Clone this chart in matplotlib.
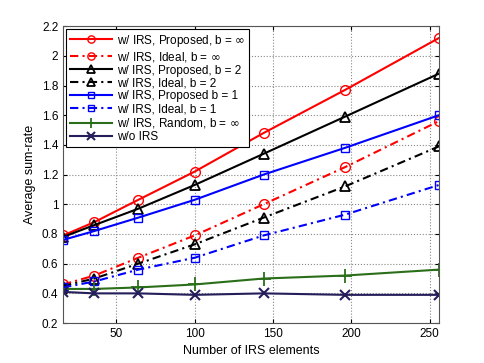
import matplotlib.pyplot as plt

plt.rcParams['font.family'] = ['Liberation Sans', 'DejaVu Sans']
plt.rcParams['mathtext.fontset'] = 'dejavusans'

n_elements = [16, 36, 64, 100, 144, 196, 256]

prop_inf = [0.79, 0.88, 1.03, 1.22, 1.48, 1.77, 2.12]
ideal_inf = [0.46, 0.52, 0.64, 0.79, 1.00, 1.25, 1.56]
prop_b2 = [0.78, 0.86, 0.97, 1.13, 1.34, 1.59, 1.88]
ideal_b2 = [0.45, 0.50, 0.60, 0.73, 0.91, 1.12, 1.39]
prop_b1 = [0.76, 0.82, 0.91, 1.03, 1.20, 1.38, 1.60]
ideal_b1 = [0.44, 0.48, 0.56, 0.64, 0.79, 0.93, 1.13]
random_inf = [0.43, 0.43, 0.44, 0.46, 0.50, 0.52, 0.56]
no_irs = [0.41, 0.40, 0.40, 0.39, 0.40, 0.39, 0.39]

fig = plt.figure(figsize=(4.85, 3.63), dpi=100)
ax = fig.add_axes([0.13, 0.11, 0.775, 0.818])

lw = 1.5
dashdot = (0, (4, 2, 1, 2))
ax.plot(n_elements, prop_inf, '-', color='red', marker='o', mfc='none', ms=7, lw=lw,
        label=r'w/ IRS, Proposed, b = $\infty$')
ax.plot(n_elements, ideal_inf, linestyle=dashdot, color='red', marker='o', mfc='none', ms=7, lw=lw,
        label=r'w/ IRS, Ideal, b = $\infty$')
ax.plot(n_elements, prop_b2, '-', color='black', marker='^', mfc='none', ms=7.5, lw=lw, mew=1.3,
        label='w/ IRS, Proposed, b = 2')
ax.plot(n_elements, ideal_b2, linestyle=dashdot, color='black', marker='^', mfc='none', ms=7.5, lw=lw, mew=1.3,
        label='w/ IRS, Ideal, b = 2')
ax.plot(n_elements, prop_b1, '-', color='blue', marker='s', mfc='none', ms=5.5, lw=lw,
        label='w/ IRS, Proposed b = 1')
ax.plot(n_elements, ideal_b1, linestyle=dashdot, color='blue', marker='s', mfc='none', ms=5.5, lw=lw,
        label='w/ IRS, Ideal, b = 1')
ax.plot(n_elements, random_inf, '-', color='#2a6e1a', marker='+', ms=10, mew=1.3, lw=lw,
        label=r'w/ IRS, Random, b = $\infty$')
ax.plot(n_elements, no_irs, '-', color='#241e5a', marker='x', ms=7, mew=1.5, lw=lw,
        label='w/o IRS')

ax.set_xlim(16, 256)
ax.set_ylim(0.2, 2.2)
ax.set_xticks([50, 100, 150, 200, 250])
ax.set_yticks([0.2, 0.4, 0.6, 0.8, 1, 1.2, 1.4, 1.6, 1.8, 2, 2.2])
ax.set_yticklabels(['0.2', '0.4', '0.6', '0.8', '1', '1.2', '1.4', '1.6', '1.8', '2', '2.2'])
ax.grid(True, linestyle=':', color='#888888', lw=0.8)
ax.tick_params(labelsize=8.5, direction='in', length=3, top=True, right=True)
for s in ax.spines.values():
    s.set_color('#555555')
ax.set_xlabel('Number of IRS elements', fontsize=9)
ax.set_ylabel('Average sum-rate', fontsize=9)

leg = ax.legend(loc='upper left', fontsize=8.5, fancybox=False, framealpha=1, markerscale=0.75,
                handlelength=3.6, borderaxespad=0.25, labelspacing=0.08, borderpad=0.3,
                handletextpad=0.4)
leg.get_frame().set_edgecolor('black')
leg.get_frame().set_linewidth(0.8)

fig.savefig('out.png', dpi=100)
